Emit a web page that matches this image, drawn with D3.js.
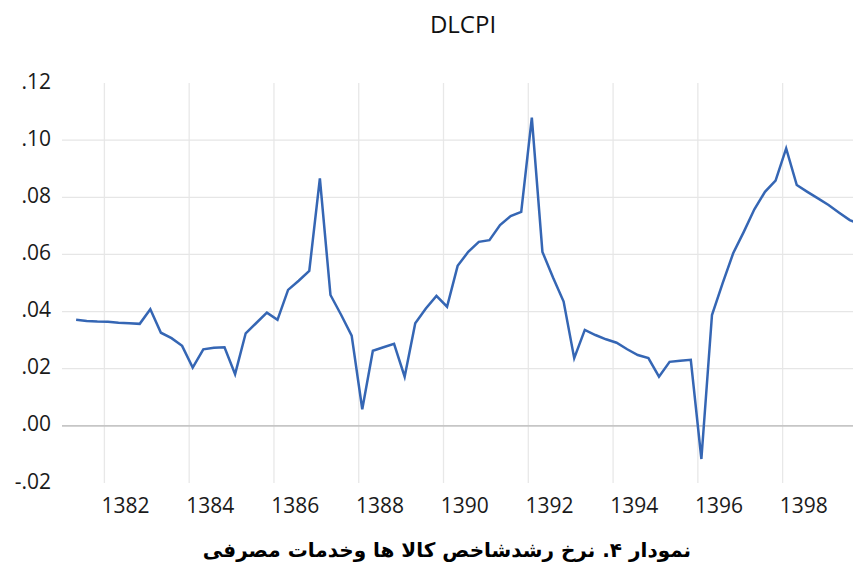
<!DOCTYPE html>
<html>
<head>
<meta charset="utf-8">
<script src="https://cdn.jsdelivr.net/npm/d3@7"></script>
<style>
  html, body { margin: 0; padding: 0; background: #fff; }
  svg { display: block; }
</style>
</head>
<body>
<svg id="chart" width="853" height="569"></svg>
<script>
// quarterly growth of CPI, first observation a third into 1381
const firstObs = 1381 + 1 / 3;
const dlcpi = [
  0.0371, 0.0367, 0.0365, 0.0364, 0.0361, 0.0359, 0.0357, 0.0408,
  0.0326, 0.0307, 0.0280, 0.0204, 0.0268, 0.0273, 0.0275, 0.0181,
  0.0324, 0.0360, 0.0396, 0.0371, 0.0476, 0.0508, 0.0542, 0.0866,
  0.0458, 0.0389, 0.0316, 0.0058, 0.0263, 0.0275, 0.0287, 0.0172,
  0.0359, 0.0411, 0.0455, 0.0417, 0.0560, 0.0609, 0.0644, 0.0650,
  0.0703, 0.0734, 0.0749, 0.1079, 0.0609, 0.0519, 0.0435, 0.0237,
  0.0336, 0.0318, 0.0303, 0.0291, 0.0268, 0.0248, 0.0237, 0.0172,
  0.0224, 0.0228, 0.0231, -0.0116, 0.0388, 0.0499, 0.0604, 0.0679,
  0.0758, 0.0819, 0.0858, 0.0971, 0.0843, 0.0819, 0.0796, 0.0773,
  0.0746, 0.0720, 0.0706
];
const yearTicks = [1382, 1384, 1386, 1388, 1390, 1392, 1394, 1396, 1398];
const yTicks = [-0.02, 0, 0.02, 0.04, 0.06, 0.08, 0.10, 0.12];
const title = "DLCPI";
const caption = "نمودار ۴. نرخ رشدشاخص کالا ها وخدمات مصرفی";

const svg = d3.select("#chart");
const plot = { left: 62, right: 853, top: 83, bottom: 483 };

const x = d3.scaleLinear().domain([1381, 1399.66]).range([plot.left, plot.right]);
const y = d3.scaleLinear().domain([-0.02, 0.12]).range([plot.bottom, plot.top]);

const fmt = (v) => {
  const s = d3.format(".2f")(v);
  return s.replace("−", "-").replace(/^(-?)0\./, "$1.");
};

// vertical grid at year starts
svg.append("g")
  .selectAll("line")
  .data(yearTicks)
  .enter()
  .append("line")
  .attr("x1", (d) => x(d)).attr("x2", (d) => x(d))
  .attr("y1", plot.top).attr("y2", plot.bottom)
  .attr("stroke", "#e8e8e8")
  .attr("stroke-width", 1.3);

// horizontal grid (none at the outer ticks)
svg.append("g")
  .selectAll("line")
  .data(yTicks.filter((d) => d > -0.02 && d < 0.12))
  .enter()
  .append("line")
  .attr("x1", plot.left).attr("x2", plot.right)
  .attr("y1", (d) => y(d)).attr("y2", (d) => y(d))
  .attr("stroke", (d) => (d === 0 ? "#c6c6c6" : "#e6e6e6"))
  .attr("stroke-width", (d) => (d === 0 ? 1.6 : 1.3));

// y labels
svg.append("g")
  .selectAll("text")
  .data(yTicks)
  .enter()
  .append("text")
  .attr("x", 51)
  .attr("y", (d) => y(d) + 5.5)
  .attr("text-anchor", "end")
  .attr("font-family", "Open Sans")
  .attr("font-size", 21)
  .attr("fill", "#1a1a1a")
  .text(fmt);

// x labels centred on the year
svg.append("g")
  .selectAll("text")
  .data(yearTicks)
  .enter()
  .append("text")
  .attr("x", (d) => x(d + 0.5))
  .attr("y", 513)
  .attr("text-anchor", "middle")
  .attr("font-family", "Open Sans")
  .attr("font-size", 21)
  .attr("fill", "#1a1a1a")
  .text((d) => d);

svg.append("defs").append("clipPath").attr("id", "plotclip")
  .append("rect").attr("x", plot.left).attr("y", 0)
  .attr("width", plot.right - plot.left).attr("height", 569);

const line = d3.line()
  .x((d, i) => x(firstObs + i / 4))
  .y((d) => y(d));

svg.append("path")
  .datum(dlcpi)
  .attr("clip-path", "url(#plotclip)")
  .attr("d", line)
  .attr("fill", "none")
  .attr("stroke", "#3566b4")
  .attr("stroke-width", 2.5)
  .attr("stroke-linejoin", "miter");

svg.append("text")
  .attr("x", 463)
  .attr("y", 33)
  .attr("text-anchor", "middle")
  .attr("font-family", "Open Sans")
  .attr("font-size", 24)
  .attr("fill", "#111")
  .text(title);

svg.append("text")
  .attr("x", 447)
  .attr("y", 557)
  .attr("text-anchor", "middle")
  .attr("direction", "rtl")
  .attr("font-family", "DejaVu Sans")
  .attr("font-weight", "bold")
  .attr("font-size", 20)
  .attr("fill", "#000")
  .text(caption);
</script>
</body>
</html>
